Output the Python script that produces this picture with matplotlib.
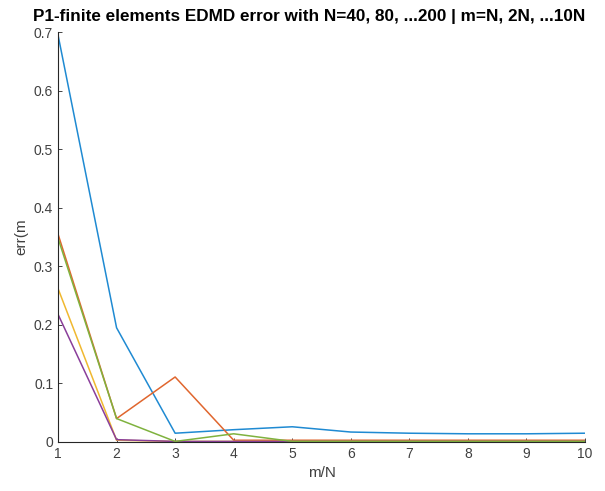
import matplotlib
matplotlib.use("Agg")
import matplotlib.pyplot as plt

x = [1, 2, 3, 4, 5, 6, 7, 8, 9, 10]
err_N40 = [0.695, 0.195, 0.015, 0.021, 0.026, 0.017, 0.015, 0.014, 0.014, 0.015]
err_N80 = [0.355, 0.040, 0.111, 0.003, 0.003, 0.003, 0.003, 0.003, 0.003, 0.003]
err_N120 = [0.262, 0.003, 0.001, 0.001, 0.001, 0.001, 0.001, 0.001, 0.001, 0.001]
err_N160 = [0.218, 0.004, 0.001, 0.001, 0.001, 0.001, 0.001, 0.001, 0.001, 0.001]
err_N200 = [0.348, 0.040, 0.001, 0.014, 0.001, 0.001, 0.001, 0.001, 0.001, 0.001]
series = [err_N40, err_N80, err_N120, err_N160, err_N200]
colors = ["#1F8AD2", "#E0662E", "#F0B830", "#8A3E9A", "#7FB23E"]
yticks = [0, 0.1, 0.2, 0.3, 0.4, 0.5, 0.6, 0.7]
yticklabels = ["0", "0.1", "0.2", "0.3", "0.4", "0.5", "0.6", "0.7"]

plt.rcParams['font.family'] = ['Liberation Sans', 'DejaVu Sans']
fig = plt.figure(figsize=(6.05, 4.91), dpi=100)
ax = fig.add_axes([0.0959, 0.0998, 0.8711, 0.835])
for s, c in zip(series, colors):
    ax.plot(x, s, color=c, lw=1.1)
ax.set_xlim(1, 10)
ax.set_ylim(0, 0.7)
ax.set_xticks(x)
ax.set_yticks(yticks)
ax.set_yticklabels(yticklabels)
for sp in ["top", "right"]:
    ax.spines[sp].set_visible(False)
for sp in ["left", "bottom"]:
    ax.spines[sp].set_color("#262626")
    ax.spines[sp].set_linewidth(0.8)
ax.tick_params(direction="in", length=3, width=0.6, colors="#262626", labelsize=10)
ax.tick_params(labelcolor="#404040")
ax.set_xlabel("m/N", fontsize=11, color="#404040")
ax.set_ylabel("err(m", fontsize=11, color="#404040")
ax.set_title("P1-finite elements EDMD error with N=40, 80, ...200 | m=N, 2N, ...10N",
             fontsize=12.3, fontweight="bold", pad=8, loc="right")
fig.savefig("out.png", dpi=100)
